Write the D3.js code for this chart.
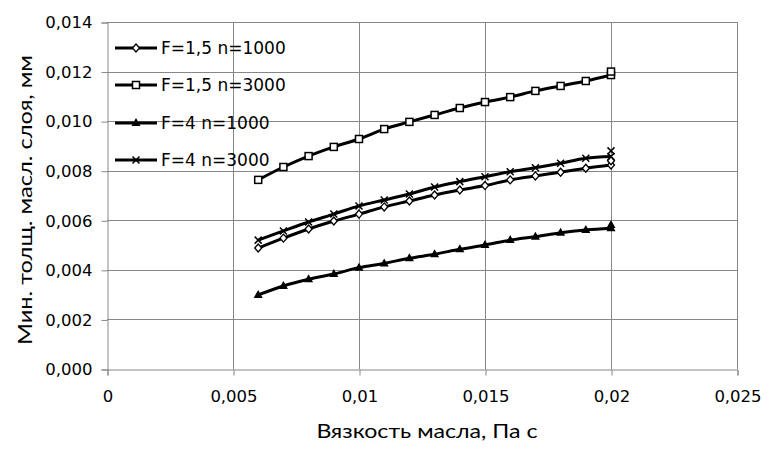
<!DOCTYPE html>
<html>
<head>
<meta charset="utf-8">
<script src="https://cdn.jsdelivr.net/npm/d3@7"></script>
<style>
  body { margin: 0; background: #fff; }
  svg text { font-family: "DejaVu Sans", sans-serif; fill: #000; }
  svg text.title { font-family: Lato, sans-serif; }
</style>
</head>
<body>
<svg width="773" height="450"></svg>
<script>
// viscosity, Pa s
const viscosity = [0.006, 0.007, 0.008, 0.009, 0.010, 0.011, 0.012, 0.013, 0.014, 0.015, 0.016, 0.017, 0.018, 0.019, 0.020, 0.020]

// min oil film thickness, mm
const f15n1000 = [0.00488, 0.00528, 0.00565, 0.00597, 0.00625, 0.00654, 0.00678, 0.00702, 0.00722, 0.00740, 0.00763, 0.00779, 0.00794, 0.00810, 0.00823, 0.00840]
const f15n3000 = [0.00763, 0.00815, 0.00859, 0.00896, 0.00928, 0.00968, 0.00997, 0.01025, 0.01053, 0.01077, 0.01097, 0.01122, 0.01142, 0.01162, 0.01186, 0.01200]
const f4n1000  = [0.00299, 0.00335, 0.00362, 0.00383, 0.00409, 0.00426, 0.00447, 0.00463, 0.00483, 0.00500, 0.00520, 0.00534, 0.00550, 0.00561, 0.00568, 0.00581]
const f4n3000  = [0.00520, 0.00557, 0.00593, 0.00625, 0.00658, 0.00682, 0.00706, 0.00734, 0.00756, 0.00776, 0.00796, 0.00812, 0.00830, 0.00850, 0.00857, 0.00880]

const seriesNames = ["F=1,5 n=1000", "F=1,5 n=3000", "F=4 n=1000", "F=4 n=3000"]
const seriesValues = [f15n1000, f15n3000, f4n1000, f4n3000]
const markerTypes = ["diamond", "square", "triangle", "cross"]

const xTicks = [0, 0.005, 0.01, 0.015, 0.02, 0.025]
const xTickLabels = ["0", "0,005", "0,01", "0,015", "0,02", "0,025"]
const yTicks = [0, 0.002, 0.004, 0.006, 0.008, 0.010, 0.012, 0.014]
const yTickLabels = ["0,000", "0,002", "0,004", "0,006", "0,008", "0,010", "0,012", "0,014"]

const xTitle = "Вязкость масла, Па с"
const yTitle = "Мин. толщ. масл. слоя, мм"

const svg = d3.select("svg")
const plotL = 107, plotR = 737, plotT = 22, plotB = 369

const x = d3.scaleLinear().domain([0, 0.025]).range([plotL, plotR])
const y = d3.scaleLinear().domain([0, 0.014]).range([plotB, plotT])

const grid = "#878787"

// gridlines
svg.append("g").selectAll("line").data(yTicks.slice(1)).enter().append("line")
    .attr("x1", plotL).attr("x2", plotR)
    .attr("y1", d => Math.round(y(d)) + 0.5).attr("y2", d => Math.round(y(d)) + 0.5)
    .attr("stroke", grid)
svg.append("g").selectAll("line").data(xTicks.slice(1)).enter().append("line")
    .attr("x1", d => Math.round(x(d)) + 0.5).attr("x2", d => Math.round(x(d)) + 0.5)
    .attr("y1", plotT).attr("y2", plotB)
    .attr("stroke", grid)

// axes
const yAxis = svg.append("g").attr("transform", `translate(${plotL + 0.5},0.5)`)
    .call(d3.axisLeft(y).tickValues(yTicks).tickFormat((d, i) => yTickLabels[i]).tickSize(6).tickPadding(9))
const xAxis = svg.append("g").attr("transform", `translate(0.5,${plotB + 0.5})`)
    .call(d3.axisBottom(x).tickValues(xTicks).tickFormat((d, i) => xTickLabels[i]).tickSize(6).tickPadding(15))
svg.selectAll(".domain").attr("stroke", grid)
svg.selectAll(".tick line").attr("stroke", grid)
svg.selectAll(".tick text").style("font-size", "16.5px").style("font-family", "DejaVu Sans").attr("fill", "#000")
xAxis.selectAll(".tick text").attr("dy", "0.71em")

// titles
svg.append("text").attr("class", "title").attr("x", 427).attr("y", 438).attr("text-anchor", "middle")
    .attr("textLength", 221).attr("lengthAdjust", "spacingAndGlyphs")
    .style("font-size", "20px").text(xTitle)
svg.append("text").attr("class", "title").attr("transform", "translate(32,200) rotate(-90)").attr("text-anchor", "middle")
    .attr("textLength", 290).attr("lengthAdjust", "spacingAndGlyphs")
    .style("font-size", "19.5px").text(yTitle)

// markers
function drawMarker(g, type, cx, cy) {
    if (type === "diamond") {
        g.append("path").attr("d", `M${cx},${cy - 4}L${cx + 3.5},${cy}L${cx},${cy + 4}L${cx - 3.5},${cy}Z`)
            .attr("fill", "#fff").attr("stroke", "#000").attr("stroke-width", 1.3)
    } else if (type === "square") {
        g.append("rect").attr("x", cx - 3.5).attr("y", cy - 3.5).attr("width", 7).attr("height", 7)
            .attr("fill", "#fff").attr("stroke", "#000").attr("stroke-width", 1.5)
    } else if (type === "triangle") {
        g.append("path").attr("d", `M${cx},${cy - 5}L${cx + 4.5},${cy + 3}L${cx - 4.5},${cy + 3}Z`)
            .attr("fill", "#000")
    } else {
        g.append("path").attr("d", `M${cx - 3.5},${cy - 3.5}L${cx + 3.5},${cy + 3.5}M${cx + 3.5},${cy - 3.5}L${cx - 3.5},${cy + 3.5}`)
            .attr("stroke", "#000").attr("stroke-width", 1.5)
    }
}

const line = d3.line().x(d => x(d[0])).y(d => y(d[1])).curve(d3.curveCatmullRom.alpha(0.5))

seriesValues.forEach((vals, i) => {
    const pts = viscosity.map((v, j) => [v, vals[j]])
    const g = svg.append("g")
    g.append("path").datum(pts.slice(0, 15)).attr("d", line)
        .attr("fill", "none").attr("stroke", "#000").attr("stroke-width", 3)
    pts.forEach(p => drawMarker(g, markerTypes[i], x(p[0]), y(p[1])))
})

// legend
const legendY = [48, 85, 123, 160]
const legend = svg.append("g")
seriesNames.forEach((name, i) => {
    const ly = legendY[i]
    legend.append("line").attr("x1", 115).attr("x2", 157).attr("y1", ly).attr("y2", ly)
        .attr("stroke", "#000").attr("stroke-width", 3)
    drawMarker(legend, markerTypes[i], 136, ly)
    legend.append("text").attr("x", 161).attr("y", ly).attr("dy", "0.36em")
        .style("font-size", "17px").text(name)
})
</script>
</body>
</html>
